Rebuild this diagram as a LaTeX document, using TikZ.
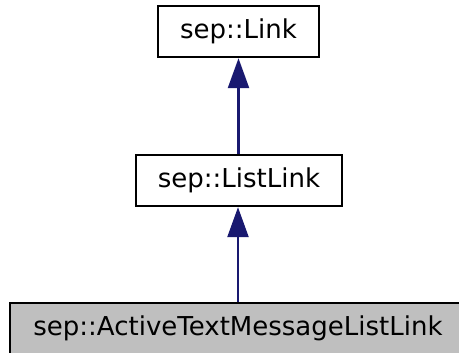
\documentclass[tikz,border=0pt]{standalone}
\usepackage{fontspec}
\setmainfont{DejaVu Sans}
\usetikzlibrary{arrows.meta}
\definecolor{edgeblue}{HTML}{191970}
\definecolor{boxgray}{HTML}{BFBFBF}
\begin{document}
\begin{tikzpicture}[x=1pt,y=-1pt,
  cls/.style={draw=black,line width=2.4pt,minimum height=51pt,inner sep=0pt,
    font=\fontsize{26}{30}\selectfont},
  inh/.style={draw=edgeblue,line width=2.4pt,-{Triangle[length=30pt,width=21pt]}}]
\useasboundingbox (0,0) rectangle (459,353);
\node[cls,minimum width=161pt] (link) at (238.5,31.5) {sep::Link};
\node[cls,minimum width=206pt] (list) at (239,180.5) {sep::ListLink};
\node[cls,fill=boxgray,minimum width=456pt] (active) at (238,328.5) {sep::ActiveTextMessageListLink};
\draw[inh] (list.north -| link.south) -- (link.south);
\draw[inh] (active.north) -- (active.north |- list.south);
\end{tikzpicture}
\end{document}
